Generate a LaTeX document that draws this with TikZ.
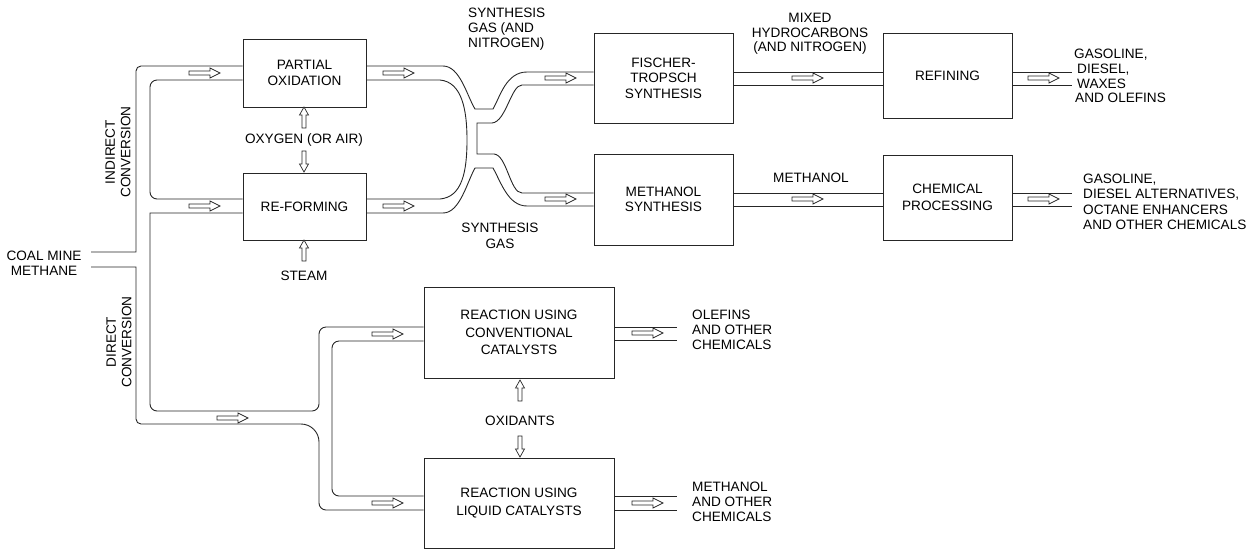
\documentclass[tikz,border=0pt]{standalone}
\usepackage{fontspec}
\setmainfont{Liberation Sans}
\begin{document}
\begin{tikzpicture}[x=1pt,y=-1pt,
  pipe/.style={draw=black!85,line width=0.9pt},
  box/.style={draw=black!85,line width=1pt,inner sep=0pt,align=center,font=\fontsize{13.6}{15.5}\selectfont},
  boxw/.style={box,font=\fontsize{13.6}{17.5}\selectfont},
  lbl/.style={inner sep=0pt,align=center,font=\fontsize{13.6}{15.5}\selectfont},
  lbll/.style={inner sep=0pt,align=left,font=\fontsize{13.6}{15}\selectfont,anchor=west},
  arrowline/.style={draw=black!85,fill=white,line width=0.7pt,line join=miter},
  longarr/.pic={\draw[arrowline] (0,-2) -- (21,-2) -- (21,-5) -- (31,0) -- (21,5) -- (21,2) -- (0,2) -- cycle;},
  shortarr/.pic={\draw[arrowline] (0,-2) -- (13,-2) -- (13,-4.5) -- (21,0) -- (13,4.5) -- (13,2) -- (0,2) -- cycle;}
]
\useasboundingbox (0,0) rectangle (1253,550);

% boxes
\node[box,minimum width=123,minimum height=68] (PO) at (304.5,73) {PARTIAL\\OXIDATION};
\node[box,minimum width=123,minimum height=67] (RF) at (304.5,206.5) {RE-FORMING};
\node[box,minimum width=139,minimum height=90] (FT) at (663.5,78) {FISCHER-\\TROPSCH\\SYNTHESIS};
\node[box,minimum width=139,minimum height=91] (MS) at (663.5,199.5) {METHANOL\\SYNTHESIS};
\node[box,minimum width=129,minimum height=85] (REF) at (947.5,75.5) {REFINING};
\node[boxw,minimum width=129,minimum height=85] (CP) at (947.5,197.5) {CHEMICAL\\PROCESSING};
\node[boxw,minimum width=190,minimum height=91] (RUCC) at (519,332.5) {REACTION USING\\CONVENTIONAL\\CATALYSTS};
\node[boxw,minimum width=190,minimum height=90] (RULC) at (519,503) {REACTION USING\\LIQUID CATALYSTS};

% labels
\node[lbl] (cmm) at (44,263) {COAL MINE\\METHANE};
\node[lbl,rotate=90] (ind) at (118,152) {INDIRECT\\CONVERSION};
\node[lbl,rotate=90] (dir) at (119,342) {DIRECT\\CONVERSION};
\node[lbl] (oxy) at (304,140) {OXYGEN (OR AIR)};
\node[lbl] (steam) at (304,276) {STEAM};
\node[lbl] (oxid) at (520,421) {OXIDANTS};
\node[lbll] (sgn) at (468,29.5) {SYNTHESIS\\GAS (AND\\NITROGEN)};
\node[lbl] (sg) at (500,236) {SYNTHESIS\\GAS};
\node[lbl,font=\fontsize{13.6}{14.5}\selectfont] (mh) at (810,34) {MIXED\\HYDROCARBONS\\(AND NITROGEN)};
\node[lbl] (meth) at (811,178) {METHANOL};
\node[lbll,font=\fontsize{13.6}{14.7}\selectfont] (out1) at (1074,76) {GASOLINE,\\\hspace*{3pt}DIESEL,\\\hspace*{3pt}WAXES\\\hspace*{1pt}AND OLEFINS};
\node[lbll,font=\fontsize{13.6}{15.4}\selectfont] (out2) at (1083,202) {GASOLINE,\\DIESEL ALTERNATIVES,\\OCTANE ENHANCERS\\AND OTHER CHEMICALS};
\node[lbll] (out3) at (692,330) {OLEFINS\\AND OTHER\\CHEMICALS};
\node[lbll] (out4) at (692,502) {METHANOL\\AND OTHER\\CHEMICALS};

% free ends
\coordinate (cmA) at (91,252);
\coordinate (cmB) at (91,267);
\coordinate (e1a) at (1072,72);
\coordinate (e1b) at (1072,85);
\coordinate (e2a) at (1072,193);
\coordinate (e2b) at (1072,206);
\coordinate (e3a) at (677,327);
\coordinate (e3b) at (677,340);
\coordinate (e4a) at (677,496);
\coordinate (e4b) at (677,510);

% indirect pipes
\draw[pipe] (cmA) -- (136,252) [rounded corners=5pt] -- (136,66) [rounded corners=15pt] -- (PO.west |- 0,66);
\draw[pipe,rounded corners=7pt] (PO.west |- 0,80) -- (150,80) -- (150,199) -- (RF.west |- 0,199);
\draw[pipe] (RF.west |- 0,213) -- (150,213) [rounded corners=7pt] -- (150,411) -- (319,411) -- (319,327) [rounded corners=15pt] -- (RUCC.west |- 0,327);
% direct pipes
\draw[pipe] (cmB) -- (136,267) [rounded corners=5pt] -- (136,424) [rounded corners=18pt] -- (319,424) [rounded corners=7pt] -- (319,510) [rounded corners=15pt] -- (RULC.west |- 0,510);
\draw[pipe,rounded corners=7pt] (RUCC.west |- 0,341) -- (332,341) -- (332,496) -- (RULC.west |- 0,496);

% junction
\draw[pipe] (PO.east |- 0,66) -- (443,66) .. controls (460,66) and (467,96) .. (475,109) -- (493,109) .. controls (500,97) and (506,72) .. (527,72) -- (FT.west |- 0,72);
\draw[pipe] (PO.east |- 0,80) -- (440,80) .. controls (462,82) and (467,110) .. (467,140) .. controls (467,172) and (462,197) .. (440,199) -- (RF.east |- 0,199);
\draw[pipe] (FT.west |- 0,85) -- (522,85) .. controls (511,85) and (506,122) .. (492,123) -- (477,123) -- (477,154) -- (494,154) .. controls (507,155) and (510,193) .. (522,193) -- (MS.west |- 0,193);
\draw[pipe] (RF.east |- 0,213) -- (443,213) .. controls (460,213) and (467,182) .. (475,168) -- (493,168) .. controls (501,182) and (508,206) .. (527,206) -- (MS.west |- 0,206);

% right pipes
\draw[pipe] (FT.east |- 0,72) -- (REF.west |- 0,72);
\draw[pipe] (FT.east |- 0,85) -- (REF.west |- 0,85);
\draw[pipe] (MS.east |- 0,193) -- (CP.west |- 0,193);
\draw[pipe] (MS.east |- 0,206) -- (CP.west |- 0,206);
\draw[pipe] (REF.east |- 0,72) -- (e1a);
\draw[pipe] (REF.east |- 0,85) -- (e1b);
\draw[pipe] (CP.east |- 0,193) -- (e2a);
\draw[pipe] (CP.east |- 0,206) -- (e2b);
\draw[pipe] (RUCC.east |- 0,327) -- (e3a);
\draw[pipe] (RUCC.east |- 0,340) -- (e3b);
\draw[pipe] (RULC.east |- 0,496) -- (e4a);
\draw[pipe] (RULC.east |- 0,510) -- (e4b);

% flow arrows
\pic at (189,73) {longarr};
\pic at (189,206) {longarr};
\pic at (383,73) {longarr};
\pic at (383,206) {longarr};
\pic at (545,78) {longarr};
\pic at (545,199) {longarr};
\pic at (792,78) {longarr};
\pic at (792,199) {longarr};
\pic at (1028,78) {longarr};
\pic at (1028,199) {longarr};
\pic at (217,418) {longarr};
\pic at (372,334) {longarr};
\pic at (372,503) {longarr};
\pic at (632,333) {longarr};
\pic at (632,503) {longarr};
% vertical arrows
\pic[rotate=90] at (304,128) {shortarr};
\pic[rotate=-90] at (304,151) {shortarr};
\pic[rotate=90] at (304,261) {shortarr};
\pic[rotate=90] at (520,401) {shortarr};
\pic[rotate=-90] at (520,436) {shortarr};
\end{tikzpicture}
\end{document}
